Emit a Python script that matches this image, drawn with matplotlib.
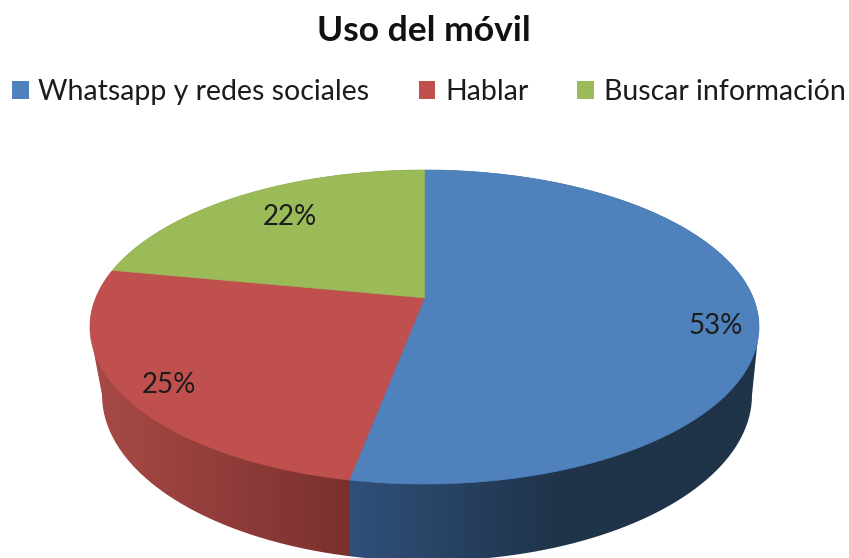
import matplotlib
matplotlib.use('Agg')
import matplotlib.pyplot as plt
from matplotlib.colors import to_rgb
from matplotlib.patches import Patch, PathPatch
from matplotlib.path import Path
import numpy as np

categories = ['Whatsapp y redes sociales', 'Hablar', 'Buscar información']
values = [53, 25, 22]
colors = ['#4f81bd', '#c0504d', '#9bbb59']
label_pos = [(716, 326), (169, 385), (290, 217)]

plt.rcParams['font.family'] = ['Lato', 'DejaVu Sans']

# top ellipse, k moves the apex up to fake the perspective
cx, cy, rx, ry, k = 424.5, 327, 334.5, 157, 0.186
# lower rim of the side wall
cx2, cy2, rx2, ry2 = 427, 395, 325, 166


def rim(t):
    # t is the clockwise angle from 12 o'clock
    u, v = np.sin(t), np.cos(t)
    d = 1 + k * v
    return cx + rx * u * np.sqrt(1 - k * k) / d, cy - ry * (v + k) / d


fig = plt.figure(figsize=(8.49, 5.58), dpi=100)
ax = fig.add_axes([0, 0, 1, 1])
ax.set_xlim(0, 849)
ax.set_ylim(558, 0)
ax.axis('off')

# side wall, gradient by x and clipped to the body outline
xs = np.arange(0, 849)
grad = np.zeros((1, len(xs), 3))
seam = rim(2 * np.pi * values[0] / sum(values))[0]
for i, x in enumerate(xs):
    if x < seam:
        f = np.interp(x, [95, seam], [0, 1])
        grad[0, i] = f * np.array(to_rgb('#7a302e')) + (1 - f) * np.array(to_rgb('#a84a47'))
    else:
        f = np.interp(x, [seam, 560], [0, 1])
        grad[0, i] = f * np.array(to_rgb('#1f3349')) + (1 - f) * np.array(to_rgb('#30507a'))

a = np.linspace(0, np.pi, 200)
top_a = np.linspace(np.pi, 0, 100)
outline = np.vstack([
    np.column_stack([[cx + rx - 1], [cy + 10]]),
    np.column_stack([cx2 + rx2 * np.cos(a), cy2 + ry2 * np.sin(a)]),
    np.column_stack([[cx - rx + 1], [cy + 10]]),
    np.column_stack([cx + rx * np.cos(top_a), cy - ry * np.sin(top_a)]),
])
body = PathPatch(Path(outline), facecolor='none', edgecolor='none', transform=ax.transData)
ax.add_patch(body)
im = ax.imshow(grad, extent=[0, 849, 558, 0], aspect='auto', interpolation='bilinear', zorder=1)
im.set_clip_path(body)
ax.set_xlim(0, 849)
ax.set_ylim(558, 0)

# top face
start = 0
for val, col in zip(values, colors):
    t = np.linspace(start, start + val, 150) / sum(values) * 2 * np.pi
    x, y = rim(t)
    ax.fill(np.r_[cx, x], np.r_[cy - ry * k, y], color=col, lw=0.5, zorder=2)
    start += val

for val, (lx, ly) in zip(values, label_pos):
    ax.text(lx, ly, f'{val}%', ha='center', va='center', fontsize=20, color='#1c1c1c', zorder=3)

ax.text(424, 31, 'Uso del móvil', ha='center', va='center', fontsize=25.5, fontweight='bold', color='#111111')

handles = [Patch(facecolor=c, edgecolor='none') for c in colors]
ax.legend(handles, categories, loc='center left', bbox_to_anchor=(12 / 849, 1 - 92 / 558), ncol=3,
          frameon=False, fontsize=20.5, labelcolor='#1c1c1c', handlelength=0.58, handleheight=0.58,
          handletextpad=0.35, columnspacing=1.72, borderpad=0, borderaxespad=0)

fig.savefig('out.png', dpi=100)
